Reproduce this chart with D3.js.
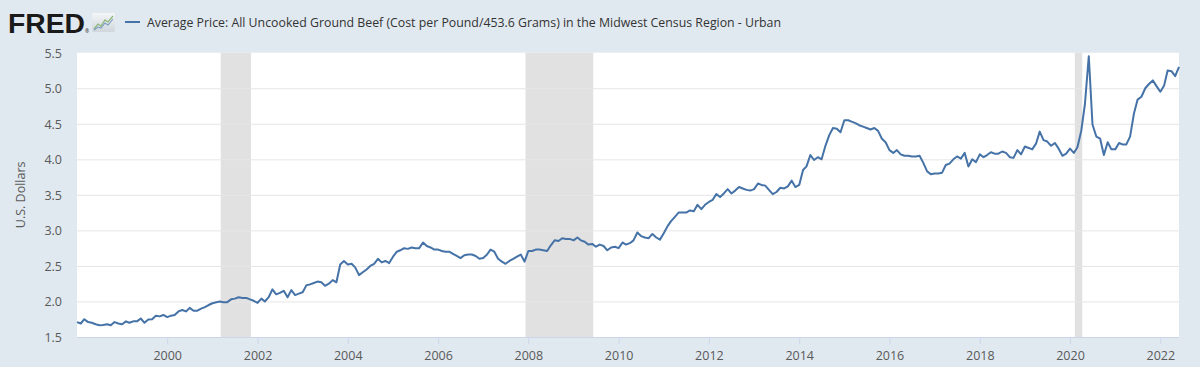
<!DOCTYPE html>
<html>
<head>
<meta charset="utf-8">
<script src="https://cdn.jsdelivr.net/npm/d3@7"></script>
<style>
  html, body { margin: 0; padding: 0; background: #e1e9f0; }
  svg { display: block; }
  text { font-family: "Open Sans", "Noto Sans", sans-serif; }
</style>
</head>
<body>
<svg id="chart" width="1200" height="367"></svg>
<script>
// ---- Data (monthly, Jan 1998 – Jun 2022) ----
const startMonth = "1998-01";
const seriesTitle = "Average Price: All Uncooked Ground Beef (Cost per Pound/453.6 Grams) in the Midwest Census Region - Urban";
const yAxisTitle = "U.S. Dollars";

const v1998 = [1.71, 1.69, 1.75, 1.71, 1.70, 1.68, 1.665, 1.67, 1.68, 1.665, 1.71, 1.69];
const v1999 = [1.68, 1.72, 1.70, 1.72, 1.72, 1.76, 1.70, 1.745, 1.75, 1.80, 1.79, 1.81];
const v2000 = [1.78, 1.80, 1.81, 1.86, 1.88, 1.86, 1.91, 1.87, 1.87, 1.90, 1.92, 1.95];
const v2001 = [1.975, 1.99, 2.00, 1.99, 1.99, 2.03, 2.04, 2.06, 2.05, 2.05, 2.03, 2.01];
const v2002 = [1.98, 2.04, 2.00, 2.06, 2.17, 2.10, 2.12, 2.15, 2.06, 2.16, 2.09, 2.11];
const v2003 = [2.13, 2.23, 2.24, 2.26, 2.28, 2.27, 2.22, 2.25, 2.30, 2.27, 2.52, 2.57];
const v2004 = [2.52, 2.53, 2.48, 2.37, 2.41, 2.45, 2.50, 2.53, 2.60, 2.55, 2.57, 2.54];
const v2005 = [2.63, 2.70, 2.72, 2.75, 2.74, 2.76, 2.75, 2.75, 2.83, 2.78, 2.76, 2.73];
const v2006 = [2.73, 2.71, 2.70, 2.70, 2.67, 2.64, 2.61, 2.65, 2.66, 2.66, 2.64, 2.60];
const v2007 = [2.61, 2.66, 2.73, 2.70, 2.60, 2.56, 2.53, 2.57, 2.60, 2.63, 2.66, 2.56];
const v2008 = [2.71, 2.71, 2.73, 2.73, 2.72, 2.71, 2.79, 2.86, 2.85, 2.89, 2.88, 2.88];
const v2009 = [2.86, 2.90, 2.86, 2.84, 2.80, 2.81, 2.77, 2.80, 2.78, 2.72, 2.76, 2.77];
const v2010 = [2.75, 2.83, 2.80, 2.82, 2.86, 2.97, 2.92, 2.90, 2.89, 2.95, 2.90, 2.87];
const v2011 = [2.96, 3.06, 3.13, 3.19, 3.25, 3.25, 3.25, 3.28, 3.27, 3.36, 3.30, 3.36];
const v2012 = [3.40, 3.43, 3.51, 3.47, 3.52, 3.58, 3.52, 3.56, 3.61, 3.59, 3.57, 3.56];
const v2013 = [3.58, 3.66, 3.64, 3.63, 3.57, 3.51, 3.54, 3.60, 3.59, 3.62, 3.70, 3.61];
const v2014 = [3.64, 3.85, 3.90, 4.06, 3.99, 4.03, 4.00, 4.19, 4.34, 4.44, 4.43, 4.38];
const v2015 = [4.55, 4.55, 4.53, 4.51, 4.48, 4.46, 4.44, 4.42, 4.44, 4.40, 4.29, 4.24];
const v2016 = [4.13, 4.09, 4.13, 4.07, 4.05, 4.05, 4.04, 4.04, 4.05, 3.95, 3.83, 3.79];
const v2017 = [3.80, 3.80, 3.81, 3.92, 3.94, 4.00, 4.04, 4.01, 4.09, 3.90, 4.00, 3.96];
const v2018 = [4.07, 4.03, 4.06, 4.10, 4.08, 4.08, 4.11, 4.09, 4.03, 4.02, 4.13, 4.07];
const v2019 = [4.18, 4.16, 4.14, 4.22, 4.39, 4.27, 4.25, 4.19, 4.23, 4.15, 4.05, 4.08];
const v2020 = [4.15, 4.09, 4.17, 4.40, 4.78, 5.45, 4.49, 4.32, 4.29, 4.06, 4.24, 4.14];
const v2021 = [4.14, 4.23, 4.21, 4.21, 4.32, 4.64, 4.84, 4.88, 5.00, 5.06, 5.11, 5.03];
const v2022 = [4.95, 5.04, 5.25, 5.24, 5.17, 5.30];

const recessions = [["2001-03-01", "2001-11-01"], ["2007-12-01", "2009-06-01"], ["2020-02-01", "2020-04-01"]];
const yTicks = [1.5, 2.0, 2.5, 3.0, 3.5, 4.0, 4.5, 5.0, 5.5];
const xTickYears = [2000, 2002, 2004, 2006, 2008, 2010, 2012, 2014, 2016, 2018, 2020, 2022];
const xDomain = ["1998-01-01", "2022-06-01"];
const yDomain = [1.5, 5.5];

// ---- Build series ----
const allValues = [].concat(v1998, v1999, v2000, v2001, v2002, v2003, v2004, v2005, v2006, v2007,
  v2008, v2009, v2010, v2011, v2012, v2013, v2014, v2015, v2016, v2017, v2018, v2019, v2020, v2021, v2022);
const parse = d3.timeParse("%Y-%m-%d");
const t0 = parse(startMonth + "-01");
const data = allValues.map((v, i) => ({ date: d3.timeMonth.offset(t0, i), value: v }));

// ---- Layout ----
const svg = d3.select("#chart");
const W = 1200, H = 367;
const plot = { left: 77, right: 1179, top: 52.7, bottom: 337 };

svg.append("rect").attr("width", W).attr("height", H).attr("fill", "#e1e9f0");

const x = d3.scaleTime().domain(xDomain.map(parse)).range([plot.left, plot.right]);
const y = d3.scaleLinear().domain(yDomain).range([plot.bottom, plot.top]);

// plot background
svg.append("rect")
  .attr("x", plot.left).attr("y", plot.top)
  .attr("width", plot.right - plot.left).attr("height", plot.bottom - plot.top)
  .attr("fill", "#ffffff");

// recession bands
svg.append("g").selectAll("rect").data(recessions).join("rect")
  .attr("x", d => x(parse(d[0])) + 1)
  .attr("y", plot.top)
  .attr("width", d => x(parse(d[1])) - x(parse(d[0])))
  .attr("height", plot.bottom - plot.top)
  .attr("fill", "#e1e1e1");

// gridlines
const yAxis = d3.axisLeft(y).tickValues(yTicks).tickFormat(d3.format(".1f"))
  .tickSize(-(plot.right - plot.left)).tickPadding(15);
const gy = svg.append("g").attr("transform", `translate(${plot.left},0)`).call(yAxis);
gy.select(".domain").remove();
gy.selectAll(".tick line").attr("stroke", "#e6e6e6").attr("stroke-width", 1)
  .filter(d => d === 1.5 || d === 5.5).attr("stroke-opacity", 0);
gy.selectAll(".tick text").attr("fill", "#595959").style("font-size", "12.5px")
  .attr("x", -15).attr("dy", "0.35em");

// x axis
const xAxis = d3.axisBottom(x)
  .tickValues(xTickYears.map(yr => new Date(yr, 0, 1)))
  .tickFormat(d3.timeFormat("%Y")).tickSize(7).tickPadding(7);
const gx = svg.append("g").attr("transform", `translate(0,${plot.bottom})`).call(xAxis);
gx.select(".domain").attr("stroke", "#ccd6eb").attr("d", `M${plot.left},0.5H${plot.right}`);
gx.selectAll(".tick line").attr("stroke", "#ccd6eb");
gx.selectAll(".tick text").attr("fill", "#595959").style("font-size", "12.5px");

// y axis title
svg.append("text")
  .attr("transform", `translate(25,${(plot.top + plot.bottom) / 2}) rotate(-90)`)
  .attr("text-anchor", "middle")
  .attr("fill", "#595959").style("font-size", "12.5px")
  .text(yAxisTitle);

// line
const line = d3.line().x(d => x(d.date)).y(d => y(d.value));
svg.append("path").datum(data)
  .attr("d", line)
  .attr("fill", "none")
  .attr("stroke", "#4572a7")
  .attr("stroke-width", 2)
  .attr("stroke-linejoin", "round");

// ---- Header: FRED logo + legend ----
const logo = svg.append("g");
logo.append("text")
  .attr("x", 8).attr("y", 32.5)
  .attr("textLength", 77).attr("lengthAdjust", "spacingAndGlyphs")
  .style("font-family", "'Liberation Sans', Arial, sans-serif")
  .style("font-weight", "bold").style("font-size", "27px")
  .attr("fill", "#1a1a1a")
  .text("FRED");
logo.append("text")
  .attr("x", 85).attr("y", 33)
  .style("font-size", "5px").attr("fill", "#1a1a1a").text("®");
const icon = logo.append("g").attr("transform", "translate(92,13)");
const grad = svg.append("defs").append("linearGradient").attr("id", "ig").attr("x1", 0).attr("y1", 0).attr("x2", 0).attr("y2", 1);
grad.append("stop").attr("offset", 0).attr("stop-color", "#f4f6f8");
grad.append("stop").attr("offset", 1).attr("stop-color", "#cfd6dc");
icon.append("rect").attr("width", 23).attr("height", 19).attr("rx", 2).attr("fill", "url(#ig)");
icon.append("path").attr("d", "M2,16 L6,11 L9,13 L13,7 L16,9 L21,3")
  .attr("fill", "none").attr("stroke", "#8fb87a").attr("stroke-width", 1.3);
icon.append("path").attr("d", "M2,17 L6,14 L9,15 L13,10 L16,12 L21,6")
  .attr("fill", "none").attr("stroke", "#7a9cc4").attr("stroke-width", 1.1);

svg.append("line")
  .attr("x1", 125).attr("x2", 140).attr("y1", 22).attr("y2", 22)
  .attr("stroke", "#4572a7").attr("stroke-width", 2);
svg.append("text")
  .attr("x", 147).attr("y", 26.5)
  .attr("textLength", 634).attr("lengthAdjust", "spacingAndGlyphs")
  .attr("fill", "#333333").style("font-size", "12.6px")
  .text(seriesTitle);
</script>
</body>
</html>
